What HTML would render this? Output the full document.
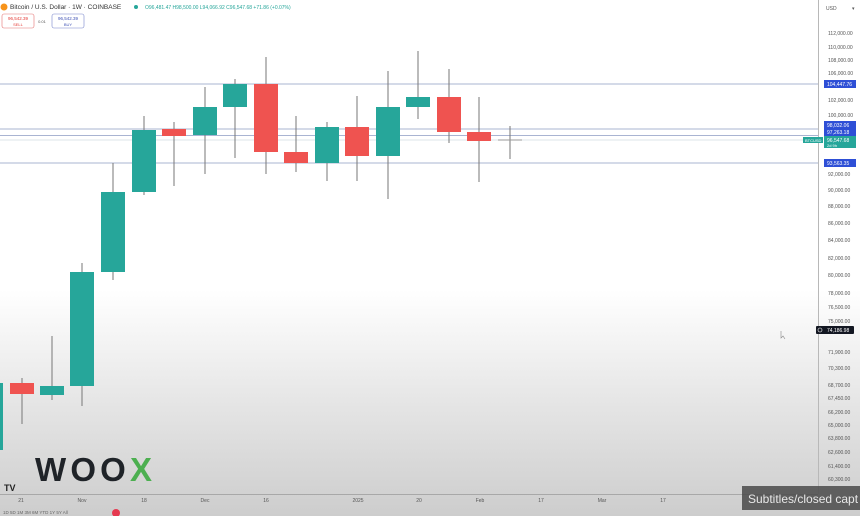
<!DOCTYPE html>
<html><head><meta charset="utf-8"><style>
html,body{margin:0;padding:0;width:860px;height:516px;overflow:hidden;font-family:"Liberation Sans",sans-serif}
.bg{position:absolute;left:0;top:0;width:860px;height:516px;background:linear-gradient(#fff 0px,#fff 290px,#e6e6e6 400px,#cdcdcd 516px)}
</style></head><body>
<div class="bg"></div>
<svg width="860" height="516" style="position:absolute;left:0;top:0" font-family="Liberation Sans, sans-serif">
<g stroke="#a9b4d2" stroke-width="1">
<line x1="0" y1="84" x2="818" y2="84"/>
<line x1="0" y1="129" x2="818" y2="129"/>
<line x1="0" y1="135.5" x2="818" y2="135.5"/>
<line x1="0" y1="163" x2="818" y2="163"/>
</g>
<line x1="0" y1="140" x2="818" y2="140" stroke="#dde4ea" stroke-width="1"/>
<g stroke="#777" stroke-width="1">
<line x1="22" y1="378" x2="22" y2="424"/>
<line x1="52" y1="336" x2="52" y2="400"/>
<line x1="82" y1="263" x2="82" y2="406"/>
<line x1="113" y1="163" x2="113" y2="280"/>
<line x1="144" y1="116" x2="144" y2="195"/>
<line x1="174" y1="122" x2="174" y2="186"/>
<line x1="205" y1="87" x2="205" y2="174"/>
<line x1="235" y1="79" x2="235" y2="158"/>
<line x1="266" y1="57" x2="266" y2="174"/>
<line x1="296" y1="116" x2="296" y2="172"/>
<line x1="327" y1="122" x2="327" y2="181"/>
<line x1="357" y1="96" x2="357" y2="181"/>
<line x1="388" y1="71" x2="388" y2="199"/>
<line x1="418" y1="51" x2="418" y2="119"/>
<line x1="449" y1="69" x2="449" y2="143"/>
<line x1="479" y1="97" x2="479" y2="182"/>
<line x1="510" y1="126" x2="510" y2="159"/>
<line x1="498" y1="140" x2="522" y2="140" stroke="#999"/>
</g>
<g fill="#26a69a">
<rect x="0" y="383" width="3" height="67"/>
<rect x="40" y="386" width="24" height="9"/>
<rect x="70" y="272" width="24" height="114"/>
<rect x="101" y="192" width="24" height="80"/>
<rect x="132" y="130" width="24" height="62"/>
<rect x="193" y="107" width="24" height="28"/>
<rect x="223" y="84" width="24" height="23"/>
<rect x="315" y="127" width="24" height="36"/>
<rect x="376" y="107" width="24" height="49"/>
<rect x="406" y="97" width="24" height="10"/>
</g>
<g fill="#ef5350">
<rect x="10" y="383" width="24" height="11"/>
<rect x="162" y="129" width="24" height="7"/>
<rect x="254" y="84" width="24" height="68"/>
<rect x="284" y="152" width="24" height="11"/>
<rect x="345" y="127" width="24" height="29"/>
<rect x="437" y="97" width="24" height="35"/>
<rect x="467" y="132" width="24" height="9"/>
</g>
<line x1="818.5" y1="0" x2="818.5" y2="494" stroke="#b8b8b8"/>
<line x1="0" y1="494.5" x2="818" y2="494.5" stroke="#a8a8a8"/>
<g font-size="5" fill="#555">
<text x="826" y="10">USD</text><text x="852" y="10">▾</text>
<text x="828" y="35">112,000.00</text><text x="828" y="49">110,000.00</text>
<text x="828" y="62">108,000.00</text><text x="828" y="75">106,000.00</text>
<text x="828" y="102">102,000.00</text><text x="828" y="117">100,000.00</text>
<text x="828" y="176">92,000.00</text><text x="828" y="192">90,000.00</text>
<text x="828" y="208">88,000.00</text><text x="828" y="225">86,000.00</text>
<text x="828" y="242">84,000.00</text><text x="828" y="260">82,000.00</text>
<text x="828" y="277">80,000.00</text><text x="828" y="295">78,000.00</text>
<text x="828" y="309">76,500.00</text><text x="828" y="323">75,000.00</text>
<text x="828" y="354">71,900.00</text><text x="828" y="370">70,300.00</text>
<text x="828" y="387">68,700.00</text><text x="828" y="400">67,450.00</text>
<text x="828" y="414">66,200.00</text><text x="828" y="427">65,000.00</text>
<text x="828" y="440">63,800.00</text><text x="828" y="454">62,600.00</text>
<text x="828" y="468">61,400.00</text><text x="828" y="481">60,300.00</text>
</g>
<g font-size="5" fill="#fff">
<rect x="824" y="80" width="32" height="8" fill="#2e4fd6"/><text x="827" y="86">104,447.76</text>
<rect x="824" y="121" width="32" height="15" fill="#2e4fd6"/><text x="827" y="127">98,032.06</text><text x="827" y="134">97,263.18</text>
<rect x="824" y="136" width="32" height="12" fill="#26a69a"/><text x="827" y="142">96,547.68</text><text x="827" y="147" font-size="4">2d 9h</text>
<rect x="803" y="137" width="20" height="6" fill="#26a69a"/><text x="805" y="142" font-size="4">BTCUSD</text>
<rect x="824" y="159" width="32" height="8" fill="#2e4fd6"/><text x="827" y="165">93,563.35</text>
<rect x="816" y="326" width="38" height="8" fill="#131722" rx="1"/><text x="827" y="332">74,186.98</text>
</g>
<circle cx="820" cy="330" r="2" fill="none" stroke="#fff" stroke-width="0.6"/>
<g font-size="5" fill="#555" text-anchor="middle">
<text x="21" y="502">21</text><text x="82" y="502">Nov</text><text x="144" y="502">18</text>
<text x="205" y="502">Dec</text><text x="266" y="502">16</text><text x="358" y="502">2025</text>
<text x="419" y="502">20</text><text x="480" y="502">Feb</text><text x="541" y="502">17</text>
<text x="602" y="502">Mar</text><text x="663" y="502">17</text>
</g>
<text x="3" y="514" font-size="4.5" fill="#666">1D  5D  1M  3M  6M  YTD  1Y  5Y  All</text>
<circle cx="116" cy="513" r="4" fill="#e53950"/>
<text x="4" y="491" font-size="9" font-weight="bold" fill="#222">TV</text>
<text x="35" y="481" font-size="33" font-weight="bold" fill="#1f2328" textLength="117" lengthAdjust="spacing">WOO<tspan fill="#4caf50">X</tspan></text>
<circle cx="4" cy="7" r="3.5" fill="#f7931a"/>
<text x="10" y="9" font-size="6.5" fill="#333">Bitcoin / U.S. Dollar · 1W · COINBASE</text>
<circle cx="136" cy="7" r="2" fill="#26a69a"/>
<text x="145" y="9" font-size="5" fill="#26a69a">O96,481.47 H98,500.00 L94,066.92 C96,547.68 +71.86 (+0.07%)</text>
<rect x="2" y="14" width="32" height="14" rx="2" fill="#fff" stroke="#e57373" stroke-width="0.6"/>
<text x="18" y="20" font-size="4.5" fill="#e53935" text-anchor="middle">96,542.39</text>
<text x="18" y="26" font-size="4" fill="#e53935" text-anchor="middle">SELL</text>
<text x="42" y="23" font-size="4" fill="#555" text-anchor="middle">0.01</text>
<rect x="52" y="14" width="32" height="14" rx="2" fill="#fff" stroke="#7986cb" stroke-width="0.6"/>
<text x="68" y="20" font-size="4.5" fill="#3f51b5" text-anchor="middle">96,542.39</text>
<text x="68" y="26" font-size="4" fill="#3f51b5" text-anchor="middle">BUY</text>
<path d="M781 331 L781 338 L783 336 L785 339" fill="none" stroke="#888" stroke-width="0.6"/>
<rect x="742" y="486" width="118" height="24" fill="#4a4a4a" opacity="0.85"/>
<text x="748" y="503" font-size="12" fill="#e8e8e8">Subtitles/closed capt</text>
</svg>
</body></html>
